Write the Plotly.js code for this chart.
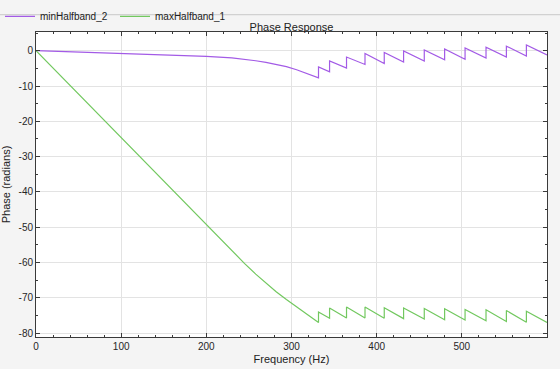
<!DOCTYPE html>
<html>
<head>
<meta charset="utf-8">
<script src="https://cdn.plot.ly/plotly-3.0.1.min.js"></script>
<style>
html,body{margin:0;padding:0;background:#f4f4f4;}
#chart{width:560px;height:369px;}
</style>
</head>
<body>
<div id="chart"></div>
<script>
// Frequencies (Hz); repeated values mark the phase jumps
const freq = [0, 50, 100, 150, 200, 230, 245, 258, 270, 282, 294, 306, 319,
  331.7, 331.7, 344.7, 344.7, 364.6, 364.6, 386.3, 386.3, 408.9, 408.9,
  431.6, 431.6, 455.9, 455.9, 479.8, 479.8, 503.8, 503.8, 528.4, 528.4,
  552.3, 552.3, 575.8, 575.8, 600];

// minHalfband_2 phase (radians)
const phaseMin = [0, -0.35, -0.72, -1.1, -1.6, -2.05, -2.4, -2.85, -3.3, -3.85, -4.5, -5.4, -6.5,
  -7.7, -4.6, -6.0, -2.9, -4.9, -1.8, -3.9, -0.8, -3.6, -0.5,
  -3.2, -0.1, -2.9, 0.2, -2.6, 0.5, -2.4, 0.8, -2.1, 1.0,
  -1.8, 1.3, -1.5, 1.6, -1.2];

// maxHalfband_1 phase (radians)
const phaseMax = [0, -12.35, -24.7, -37.0, -49.4, -56.7, -60.3, -63.3, -65.9, -68.3, -70.5, -72.6, -74.8,
  -77.0, -74.0, -75.8, -72.9, -75.7, -72.6, -75.7, -72.6, -75.8, -72.8,
  -75.9, -72.9, -76.0, -73.0, -76.2, -73.1, -76.3, -73.3, -76.5, -73.4,
  -76.7, -73.6, -76.9, -73.8, -77.0];

const seriesNames = ['minHalfband_2', 'maxHalfband_1'];
const xTickVals = [0, 100, 200, 300, 400, 500];
const yTickVals = [-80, -70, -60, -50, -40, -30, -20, -10, 0];

const FONT = 'Liberation Sans, Arial, Helvetica, sans-serif';

const traces = [
  {x: freq, y: phaseMin, name: seriesNames[0], type: 'scatter', mode: 'lines',
   line: {color: '#a35be6', width: 1.2}},
  {x: freq, y: phaseMax, name: seriesNames[1], type: 'scatter', mode: 'lines',
   line: {color: '#72c85f', width: 1.2}}
];

const axisCommon = {
  automargin: false,
  showline: true, linecolor: '#3a3a3a', linewidth: 1, mirror: 'ticks',
  ticks: 'inside', ticklen: 4, tickcolor: '#3a3a3a', tickwidth: 1,
  showgrid: true, gridcolor: '#e3e3e3', gridwidth: 1, zeroline: false,
  tickfont: {family: FONT, size: 10, color: '#262626'}
};

const layout = {
  width: 560, height: 369,
  paper_bgcolor: '#f4f4f4', plot_bgcolor: '#ffffff',
  margin: {l: 36, r: 13.3, t: 32.3, b: 31.7, autoexpand: false},
  font: {family: FONT, color: '#262626'},
  title: {text: 'Phase Response', font: {family: FONT, size: 11, color: '#222'},
          x: 0.5, xref: 'paper', y: 1, yref: 'paper', yanchor: 'bottom', pad: {b: 1}},
  xaxis: Object.assign({}, axisCommon, {
    range: [0, 600], tickvals: xTickVals, ticktext: xTickVals.map(String),
    minor: {dtick: 20, tick0: 0, ticks: 'inside', ticklen: 2, tickcolor: '#3a3a3a', showgrid: false},
    title: {text: 'Frequency (Hz)', font: {family: FONT, size: 11, color: '#222'}, standoff: 4}
  }),
  yaxis: Object.assign({}, axisCommon, {
    range: [-81.1, 5.3], tickvals: yTickVals, ticktext: yTickVals.map(String),
    minor: {dtick: 5, tick0: 0, ticks: 'inside', ticklen: 2, tickcolor: '#3a3a3a', showgrid: false},
    title: {text: 'Phase (radians)', font: {family: FONT, size: 11, color: '#222'}, standoff: 6}
  }),
  showlegend: true,
  legend: {orientation: 'h', xref: 'container', yref: 'container', x: 0, xanchor: 'left', y: 0.995, yanchor: 'top',
           bgcolor: 'rgba(0,0,0,0)', font: {family: FONT, size: 10, color: '#222'},
           itemwidth: 30, tracegroupgap: 0, entrywidth: 70, entrywidthmode: 'pixels'},
  shapes: [
    {type: 'line', xref: 'paper', yref: 'paper', x0: -0.0705, x1: 1.03, y0: 1.0567, y1: 1.0567,
     line: {color: '#c8c8c8', width: 1}}
  ]
};

Plotly.newPlot('chart', traces, layout, {displayModeBar: false, staticPlot: true});
</script>
</body>
</html>
